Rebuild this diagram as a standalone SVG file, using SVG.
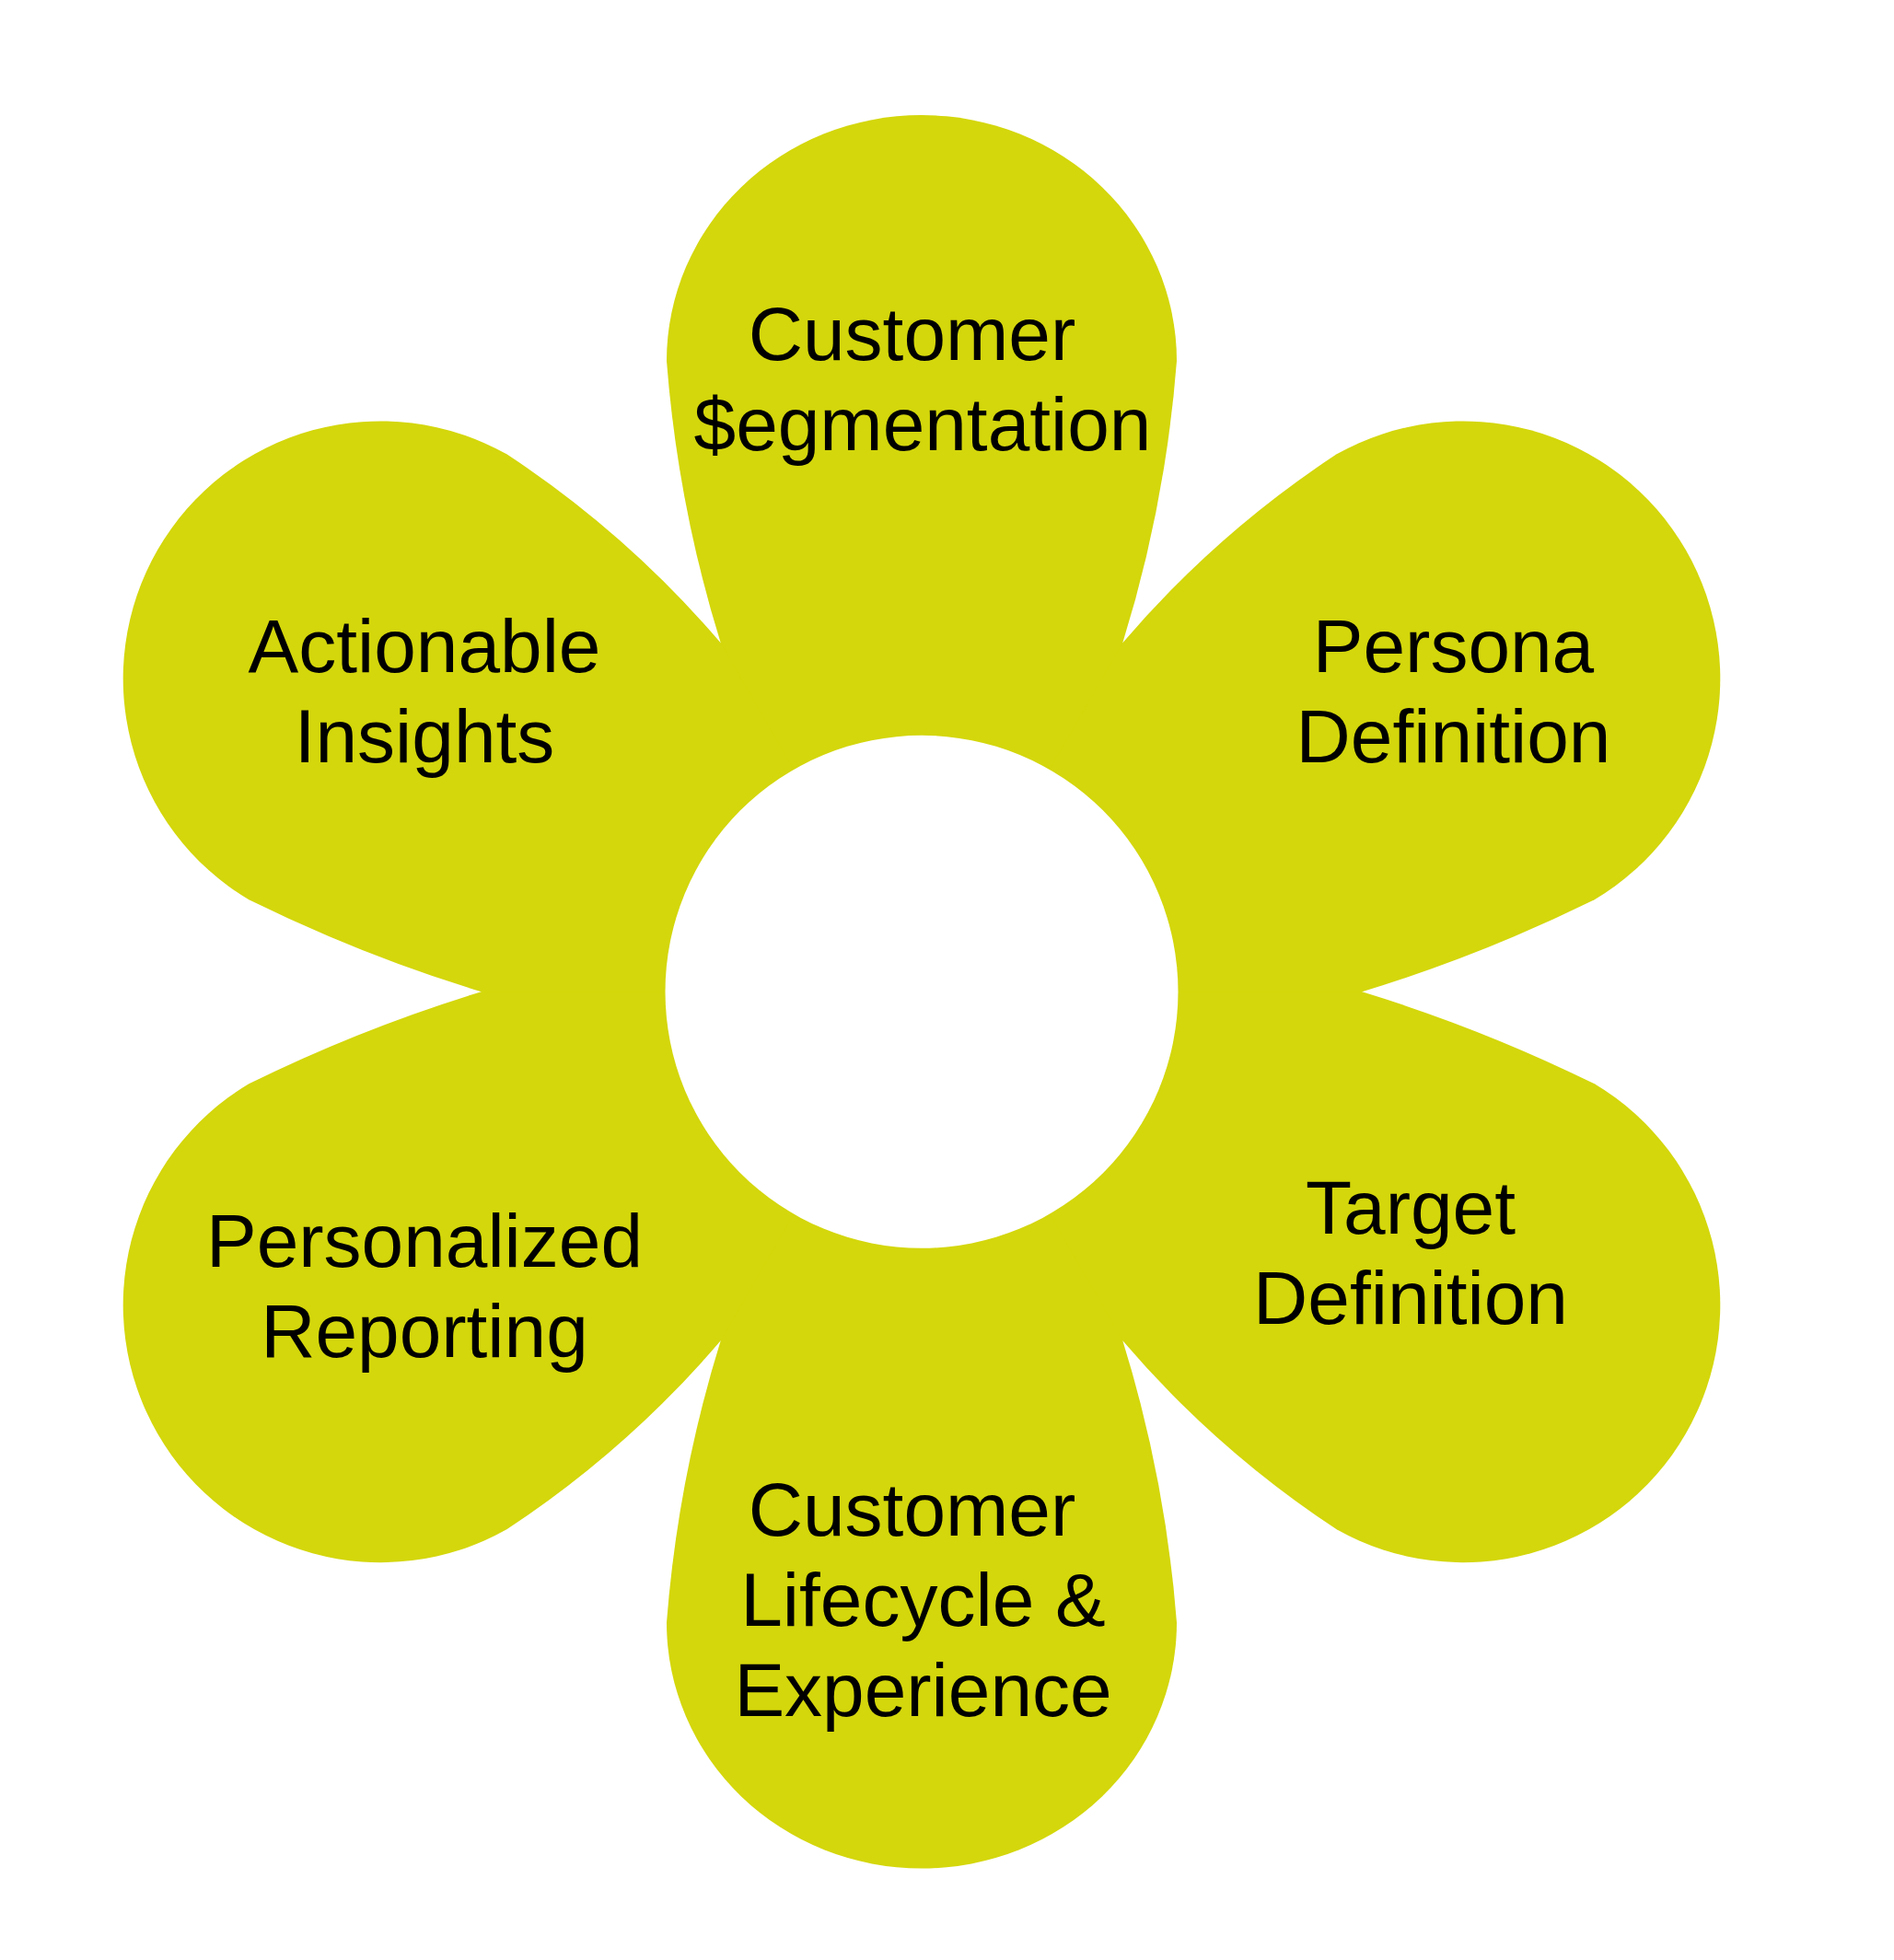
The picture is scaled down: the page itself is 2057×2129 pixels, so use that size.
<svg xmlns="http://www.w3.org/2000/svg" width="2057" height="2129" viewBox="0 0 2057 2129">
<style>
.petal{fill:#D4D70B}
.label{font-family:"Liberation Sans",Arial,sans-serif;font-size:82px;fill:#000000;text-anchor:middle}
</style>
<rect width="2057" height="2129" fill="#ffffff"/>
<g id="core">
<polygon class="petal" points="782.7,698.3 1219.3,698.3 1479.3,1077.3 1219.3,1456.3 782.7,1456.3 522.7,1077.3"/>
</g>
<g id="node-customer-segmentation">
<path class="petal" d="M782.7 698.3 Q736.1 548.5 724 392 A277 267 0 0 1 1278 392 Q1265.9 548.5 1219.3 698.3 L1001 1077.3 Z"/>
<text class="label"><tspan x="990.5" y="390.5">Customer</tspan><tspan x="1002" y="488.5">$egmentation</tspan></text>
</g>
<g id="node-persona-definition">
<path class="petal" d="M1219.3 698.3 Q1321 579.3 1451.7 493.3 A279.6 279.6 0 0 1 1731.7 977.3 Q1609.5 1037.5 1479.3 1077.3 L1001 1077.3 Z"/>
<text class="label"><tspan x="1578.5" y="729.5">Persona</tspan><tspan x="1578.5" y="827.5">Definition</tspan></text>
</g>
<g id="node-target-definition">
<path class="petal" d="M1479.3 1077.3 Q1609.5 1117.1 1731.7 1177.3 A279.6 279.6 0 0 1 1451.7 1661.3 Q1321 1575.3 1219.3 1456.3 L1001 1077.3 Z"/>
<text class="label"><tspan x="1532" y="1339.5">Target</tspan><tspan x="1532" y="1437.5">Definition</tspan></text>
</g>
<g id="node-customer-lifecycle">
<path class="petal" d="M1219.3 1456.3 Q1265.9 1606.1 1278 1762.6 A277 267 0 0 1 724 1762.6 Q736.1 1606.1 782.7 1456.3 L1001 1077.3 Z"/>
<text class="label"><tspan x="990.5" y="1668">Customer</tspan><tspan x="1002.5" y="1766">Lifecycle &amp;</tspan><tspan x="1002.5" y="1864">Experience</tspan></text>
</g>
<g id="node-personalized-reporting">
<path class="petal" d="M782.7 1456.3 Q681 1575.3 550.3 1661.3 A279.6 279.6 0 0 1 270.3 1177.3 Q392.5 1117.1 522.7 1077.3 L1001 1077.3 Z"/>
<text class="label"><tspan x="461" y="1376">Personalized</tspan><tspan x="461" y="1474">Reporting</tspan></text>
</g>
<g id="node-actionable-insights">
<path class="petal" d="M522.7 1077.3 Q392.5 1037.5 270.3 977.3 A279.6 279.6 0 0 1 550.3 493.3 Q681 579.3 782.7 698.3 L1001 1077.3 Z"/>
<text class="label"><tspan x="461" y="729.5">Actionable</tspan><tspan x="461" y="827.5">Insights</tspan></text>
</g>
<g id="hub">
<circle cx="1001" cy="1077.3" r="278.5" fill="#ffffff"/>
</g>
</svg>
